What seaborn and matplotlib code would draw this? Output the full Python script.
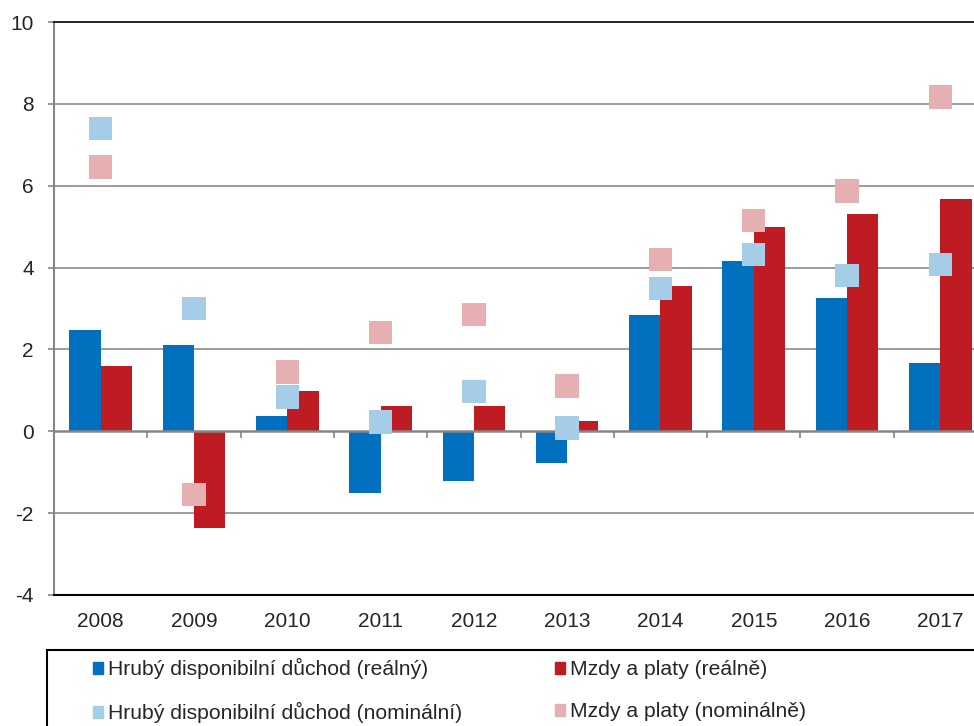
import seaborn as sns
import matplotlib.pyplot as plt
import pandas as pd
from matplotlib.patches import Patch, Rectangle

# data
years = ["2008", "2009", "2010", "2011", "2012", "2013", "2014", "2015", "2016", "2017"]
hdd_real = [2.47, 2.10, 0.37, -1.52, -1.21, -0.78, 2.84, 4.15, 3.25, 1.67]
wages_real = [1.60, -2.36, 0.99, 0.63, 0.61, 0.24, 3.56, 4.99, 5.30, 5.68]
hdd_nominal = [7.39, 3.00, 0.84, 0.23, 0.98, 0.08, 3.49, 4.32, 3.81, 4.08]
wages_nominal = [6.46, -1.54, 1.45, 2.41, 2.85, 1.11, 4.19, 5.15, 5.87, 8.17]

labels = [
    "Hrubý disponibilní důchod (reálný)",
    "Mzdy a platy (reálně)",
    "Hrubý disponibilní důchod (nominální)",
    "Mzdy a platy (nominálně)",
]
colors = ["#0070BF", "#BE1B22", "#A6CDE8", "#E6AFB2"]

real_df = pd.DataFrame({
    "year": years * 2,
    "value": hdd_real + wages_real,
    "series": [labels[0]] * len(years) + [labels[1]] * len(years),
})
nom_df = pd.DataFrame({
    "year": years * 2,
    "value": hdd_nominal + wages_nominal,
    "series": [labels[2]] * len(years) + [labels[3]] * len(years),
})

# ----------------------------
# styling
# ----------------------------
sns.set_style("white")
plt.rcParams["font.family"] = ["Liberation Sans", "DejaVu Sans"]
plt.rcParams["font.size"] = 15
plt.rcParams["axes.unicode_minus"] = False

W, H = 974, 726
fig = plt.figure(figsize=(W / 100, H / 100), dpi=100)
ax = fig.add_axes([54 / W, 1 - 595 / H, 933 / W, 573 / H])

sns.barplot(data=real_df, x="year", y="value", hue="series",
            palette=colors[:2], width=0.67, saturation=1,
            linewidth=0, legend=False, ax=ax, zorder=2)

ax.axhline(0, color="#868686", lw=1.8, zorder=3)

sns.stripplot(data=nom_df, x="year", y="value", hue="series",
              palette=colors[2:], jitter=False, dodge=False,
              marker="s", size=16.8, linewidth=0, legend=False,
              ax=ax, zorder=4)

ax.set_xlim(-0.5, 9.5)
ax.set_ylim(-4, 10)
ax.set_yticks(range(-4, 11, 2))
ax.set_xlabel("")
ax.set_ylabel("")

# gridlines
for y in [-2, 2, 4, 6, 8]:
    ax.axhline(y, color="#8c8c8c", lw=1.2, zorder=1)

# spines
ax.spines["right"].set_visible(False)
ax.spines["top"].set_color("black")
ax.spines["top"].set_linewidth(1.2)
ax.spines["bottom"].set_color("black")
ax.spines["bottom"].set_linewidth(1.5)
ax.spines["left"].set_color("#868686")
ax.spines["left"].set_linewidth(1.5)

ax.tick_params(axis="y", length=4.5, width=1.2, color="#868686",
               direction="out", pad=10, labelsize=15, left=True)
ax.tick_params(axis="x", length=0, pad=12, labelsize=15)

# category tick marks on the zero line
sec = ax.secondary_xaxis(4 / 14)
sec.set_xticks([i + 0.5 for i in range(9)])
sec.set_xticklabels([])
sec.tick_params(length=5, width=1.2, color="#868686", direction="out")
sec.spines["bottom"].set_visible(False)
sec.spines["top"].set_visible(False)

# legend with frame
frame = Rectangle((47 / W, -0.05), 1.0, 0.05 + (1 - 650 / H),
                  transform=fig.transFigure, fill=False,
                  edgecolor="black", lw=1.5)
fig.add_artist(frame)

handles = [Patch(color=c) for c in colors]
order = [0, 2, 1, 3]
fig.legend([handles[i] for i in order], [labels[i] for i in order],
           ncol=2, loc="upper left", bbox_to_anchor=(93 / W, 1 - 658 / H),
           frameon=False, borderpad=0, borderaxespad=0,
           handlelength=0.47, handleheight=0.5, handletextpad=0.25,
           labelspacing=1.1, columnspacing=4.37, fontsize=15.2)

fig.savefig("out.png", dpi=100)
plt.close(fig)
